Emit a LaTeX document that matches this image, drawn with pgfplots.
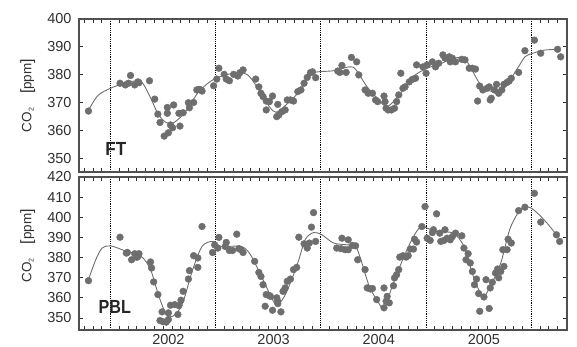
\documentclass[border=0pt]{standalone}
\usepackage{pgfplots}
\pgfplotsset{compat=1.18}
\usepackage{fontspec}
\setmainfont{Liberation Sans}
\definecolor{ptc}{HTML}{6E6E6E}
\definecolor{frm}{HTML}{505050}
\definecolor{txt}{HTML}{303030}
\pgfplotsset{
  myaxis/.style={
    scale only axis, width=488pt, height=153pt,
    anchor=north west,
    xmin=2001.70, xmax=2006.34,
    xtick={2002,2003,2004,2005,2006}, xticklabels={},
    xmajorgrids=true,
    major x grid style={black, line width=1pt, dash pattern=on 1.1pt off 1.1pt},
    major x tick style={draw=none},
    minor xtick={2001.75,2001.83333,2001.91667,2002.08333,2002.16667,2002.25,2002.33333,2002.41667,2002.5,2002.58333,2002.66667,2002.75,2002.83333,2002.91667,2003.08333,2003.16667,2003.25,2003.33333,2003.41667,2003.5,2003.58333,2003.66667,2003.75,2003.83333,2003.91667,2004.08333,2004.16667,2004.25,2004.33333,2004.41667,2004.5,2004.58333,2004.66667,2004.75,2004.83333,2004.91667,2005.08333,2005.16667,2005.25,2005.33333,2005.41667,2005.5,2005.58333,2005.66667,2005.75,2005.83333,2005.91667,2006.08333,2006.16667,2006.25,2006.33333},
    minor tick length=4pt, major tick length=4pt,
    tick style={color=txt, line width=0.7pt},
    axis line style={color=frm, line width=1.3pt},
    tick align=inside,
    /pgf/number format/assume math mode=true,
    /pgf/number format/1000 sep={},
    tick label style={font=\fontsize{14.5}{16}\selectfont, text=txt},
    yticklabel style={xshift=-4pt},
    xticklabel style={yshift=-1pt},
    ylabel style={at={(axis description cs:-0.105,0.5)}, anchor=center, rotate=0, font=\fontsize{13.5}{15}\selectfont, text=txt},
    ylabel={CO\textsubscript{\scriptsize 2}\quad\raisebox{-0.5pt}{\fontsize{16}{16}\selectfont[}ppm\raisebox{-0.5pt}{\fontsize{16}{16}\selectfont]}},
    clip=true,
  },
  pts/.style={only marks, mark=*, mark size=3.4pt, mark options={draw=ptc, fill=ptc}},
  crv/.style={no markers, smooth, tension=0.5, color=ptc, line width=0.9pt},
}
\begin{document}
\begin{tikzpicture}
\path[use as bounding box] (0,0) rectangle (577pt,-347pt);
% ---------------- FT ----------------
\begin{axis}[myaxis, at={(79pt,-19pt)}, ymin=345, ymax=400, ytick={350,360,370,380,390,400}]
\addplot[crv] coordinates {
(2001.79,367.2) (2001.88,372.5) (2002.00,375.1) (2002.16,377.3) (2002.29,377.4)
(2002.37,372.5) (2002.45,366.0) (2002.52,363.0) (2002.59,362.5) (2002.70,366.1)
(2002.84,373.9) (2002.98,378.3) (2003.14,380.3) (2003.27,380.5) (2003.33,378.9)
(2003.41,374.5) (2003.51,368.5) (2003.57,366.5) (2003.65,368.5) (2003.78,373.3)
(2003.90,380.0) (2003.97,381.0) (2004.12,381.4) (2004.27,382.8) (2004.33,381.9)
(2004.44,375.6) (2004.55,370.9) (2004.63,368.5) (2004.73,372.1) (2004.88,379.3)
(2005.01,382.3) (2005.15,384.1) (2005.26,385.9) (2005.36,385.9) (2005.42,382.8)
(2005.52,376.3) (2005.63,373.9) (2005.74,375.1) (2005.87,382.3) (2005.94,386.4)
(2006.01,387.6) (2006.12,388.8) (2006.25,389.1)};
\addplot[pts] coordinates {
(2001.79,366.9) (2002.09,376.9) (2002.14,376.3) (2002.19,379.7) (2002.17,376.9)
(2002.23,376.3) (2002.26,377.4) (2002.27,377.1) (2002.37,377.8) (2002.42,371.2)
(2002.45,365.8) (2002.47,362.8) (2002.54,368.2) (2002.54,366.1) (2002.60,369.1)
(2002.57,361.9) (2002.51,357.9) (2002.55,359.1) (2002.59,360.9) (2002.66,361.5)
(2002.65,366.1) (2002.69,366.3) (2002.74,369.9) (2002.75,368.1) (2002.79,370.0)
(2002.82,374.5) (2002.84,374.7) (2002.86,374.5) (2002.87,374.1) (2002.98,376.0)
(2003.01,378.4) (2003.03,382.3) (2003.08,380.1) (2003.10,378.4) (2003.13,377.8)
(2003.17,380.1) (2003.21,379.5) (2003.23,380.7) (2003.26,381.7) (2003.38,378.4)
(2003.41,375.6) (2003.43,373.3) (2003.45,372.1) (2003.48,370.5) (2003.51,370.3)
(2003.54,372.3) (2003.59,369.3) (2003.48,367.3) (2003.58,364.9) (2003.60,365.5)
(2003.63,366.7) (2003.66,367.3) (2003.68,370.9) (2003.71,370.9) (2003.74,370.5)
(2003.78,373.9) (2003.81,374.5) (2003.84,376.9) (2003.87,379.0) (2003.90,380.7)
(2003.92,381.0) (2003.95,378.9) (2004.16,381.3) (2004.18,380.8) (2004.20,383.3)
(2004.24,380.8) (2004.29,386.2) (2004.34,384.6) (2004.36,379.9) (2004.42,374.5)
(2004.45,373.3) (2004.49,373.3) (2004.52,370.9) (2004.54,370.3) (2004.60,372.3)
(2004.61,370.3) (2004.62,367.9) (2004.64,367.3) (2004.67,367.3) (2004.70,367.9)
(2004.72,370.3) (2004.74,372.7) (2004.76,380.5) (2004.78,375.1) (2004.80,375.6)
(2004.84,377.4) (2004.87,378.3) (2004.90,378.7) (2004.91,383.5) (2004.97,382.8)
(2005.00,380.5) (2005.01,383.5) (2005.06,384.6) (2005.09,382.8) (2005.12,384.1)
(2005.16,387.1) (2005.18,385.9) (2005.22,386.4) (2005.25,385.9) (2005.28,384.6)
(2005.23,384.6) (2005.34,385.5) (2005.37,385.3) (2005.41,382.3) (2005.44,382.3)
(2005.47,382.0) (2005.51,375.9) (2005.54,374.5) (2005.58,375.1) (2005.60,375.6)
(2005.49,370.5) (2005.62,371.5) (2005.61,370.9) (2005.67,376.5) (2005.65,374.5)
(2005.69,373.3) (2005.72,374.5) (2005.74,376.5) (2005.77,377.2) (2005.79,377.7)
(2005.81,378.7) (2005.88,380.8) (2005.94,388.6) (2006.03,392.4) (2006.09,387.7)
(2006.25,389.1) (2006.28,386.4)};
\node[font=\bfseries\fontsize{19}{20}\selectfont, text=black!85, xscale=0.9] at (axis cs:2002.05,353.2) {FT};
\end{axis}
% ---------------- PBL ----------------
\begin{axis}[myaxis, at={(79pt,-177pt)}, ymin=344, ymax=420, ytick={350,360,370,380,390,400,410,420},
  ylabel style={at={(axis description cs:-0.105,0.55)}},
  extra x ticks={2002.55,2003.55,2004.55,2005.55},
  extra x tick labels={2002,2003,2004,2005},
  extra x tick style={grid=none, major tick length=0pt}]
\addplot[crv] coordinates {
(2001.79,369.0) (2001.86,379.0) (2001.92,384.7) (2002.00,385.8) (2002.13,383.5)
(2002.29,380.6) (2002.38,374.0) (2002.46,360.7) (2002.53,351.7) (2002.59,350.8)
(2002.68,356.6) (2002.78,373.8) (2002.87,385.5) (2002.97,388.0) (2003.05,385.5)
(2003.24,385.5) (2003.33,381.4) (2003.45,369.0) (2003.54,359.1) (2003.59,356.6)
(2003.67,362.4) (2003.78,377.3) (2003.85,388.8) (2003.93,392.4) (2004.01,391.3)
(2004.12,387.2) (2004.25,386.3) (2004.33,385.5) (2004.38,378.9) (2004.46,365.7)
(2004.54,358.3) (2004.60,355.0) (2004.69,367.4) (2004.79,380.5) (2004.88,390.4)
(2004.95,395.4) (2005.01,394.6) (2005.10,392.9) (2005.26,392.1) (2005.36,385.5)
(2005.45,370.6) (2005.50,364.1) (2005.55,360.7) (2005.61,365.7) (2005.71,377.3)
(2005.80,394.6) (2005.90,404.0) (2005.98,405.0) (2006.06,402.0) (2006.15,397.1)
(2006.24,391.3)};
\addplot[pts] coordinates {
(2001.79,368.5) (2002.09,390.1) (2002.15,382.2) (2002.16,382.5) (2002.20,378.9)
(2002.23,381.9) (2002.26,380.6) (2002.27,381.9) (2002.25,380.1) (2002.38,377.8)
(2002.39,374.8) (2002.41,367.9) (2002.45,361.6) (2002.49,353.0) (2002.47,348.7)
(2002.50,348.1) (2002.53,347.9) (2002.55,349.2) (2002.55,352.5) (2002.57,356.3)
(2002.61,356.6) (2002.64,351.7) (2002.65,356.1) (2002.67,358.8) (2002.69,363.2)
(2002.74,369.3) (2002.75,373.5) (2002.79,380.9) (2002.83,379.8) (2002.87,395.4)
(2002.83,375.1) (2002.97,382.5) (2002.99,386.3) (2003.02,384.7) (2003.03,390.0)
(2003.09,385.5) (2003.10,387.5) (2003.13,383.5) (2003.16,383.5) (2003.20,391.6)
(2003.22,384.4) (2003.24,383.9) (2003.26,382.5) (2003.37,378.1) (2003.41,372.6)
(2003.43,370.6) (2003.45,366.5) (2003.48,361.6) (2003.51,361.1) (2003.52,360.7)
(2003.47,355.8) (2003.54,353.8) (2003.58,360.0) (2003.59,358.3) (2003.59,357.1)
(2003.62,353.0) (2003.64,363.2) (2003.66,364.9) (2003.68,368.2) (2003.71,369.3)
(2003.74,374.0) (2003.77,375.1) (2003.79,390.1) (2003.84,386.8) (2003.87,384.7)
(2003.89,387.2) (2003.91,395.1) (2003.93,402.3) (2003.95,388.0) (2004.20,389.6)
(2004.26,388.8) (2004.15,384.7) (2004.19,384.4) (2004.23,383.9) (2004.26,383.9)
(2004.30,386.0) (2004.33,385.8) (2004.35,378.9) (2004.42,374.0) (2004.44,364.9)
(2004.47,364.4) (2004.49,364.6) (2004.53,359.1) (2004.60,364.9) (2004.60,355.0)
(2004.62,358.3) (2004.63,360.7) (2004.65,357.5) (2004.69,366.0) (2004.70,369.9)
(2004.72,371.5) (2004.74,374.0) (2004.75,380.2) (2004.78,380.9) (2004.81,380.2)
(2004.83,380.9) (2004.85,384.2) (2004.88,384.2) (2004.89,389.1) (2004.91,387.7)
(2004.96,395.4) (2004.99,405.3) (2005.01,389.6) (2005.04,388.5) (2005.06,392.4)
(2005.07,393.8) (2005.10,401.7) (2005.13,392.1) (2005.14,388.0) (2005.17,388.5)
(2005.18,393.8) (2005.20,389.6) (2005.23,388.8) (2005.25,390.4) (2005.28,392.1)
(2005.34,390.8) (2005.36,384.7) (2005.40,381.9) (2005.38,378.9) (2005.42,377.3)
(2005.44,373.1) (2005.48,369.3) (2005.46,366.5) (2005.50,362.1) (2005.55,360.4)
(2005.51,353.3) (2005.60,354.7) (2005.57,369.0) (2005.61,364.9) (2005.63,367.7)
(2005.66,372.3) (2005.68,374.3) (2005.69,369.9) (2005.71,373.1) (2005.74,375.6)
(2005.73,383.9) (2005.77,383.9) (2005.78,389.1) (2005.81,387.2) (2005.88,403.3)
(2005.94,405.0) (2006.03,411.9) (2006.09,397.6) (2006.24,391.3) (2006.27,388.0)};
\node[font=\bfseries\fontsize{19}{20}\selectfont, text=black!85, xscale=0.85] at (axis cs:2002.04,355.6) {PBL};
\end{axis}
\end{tikzpicture}
\end{document}
